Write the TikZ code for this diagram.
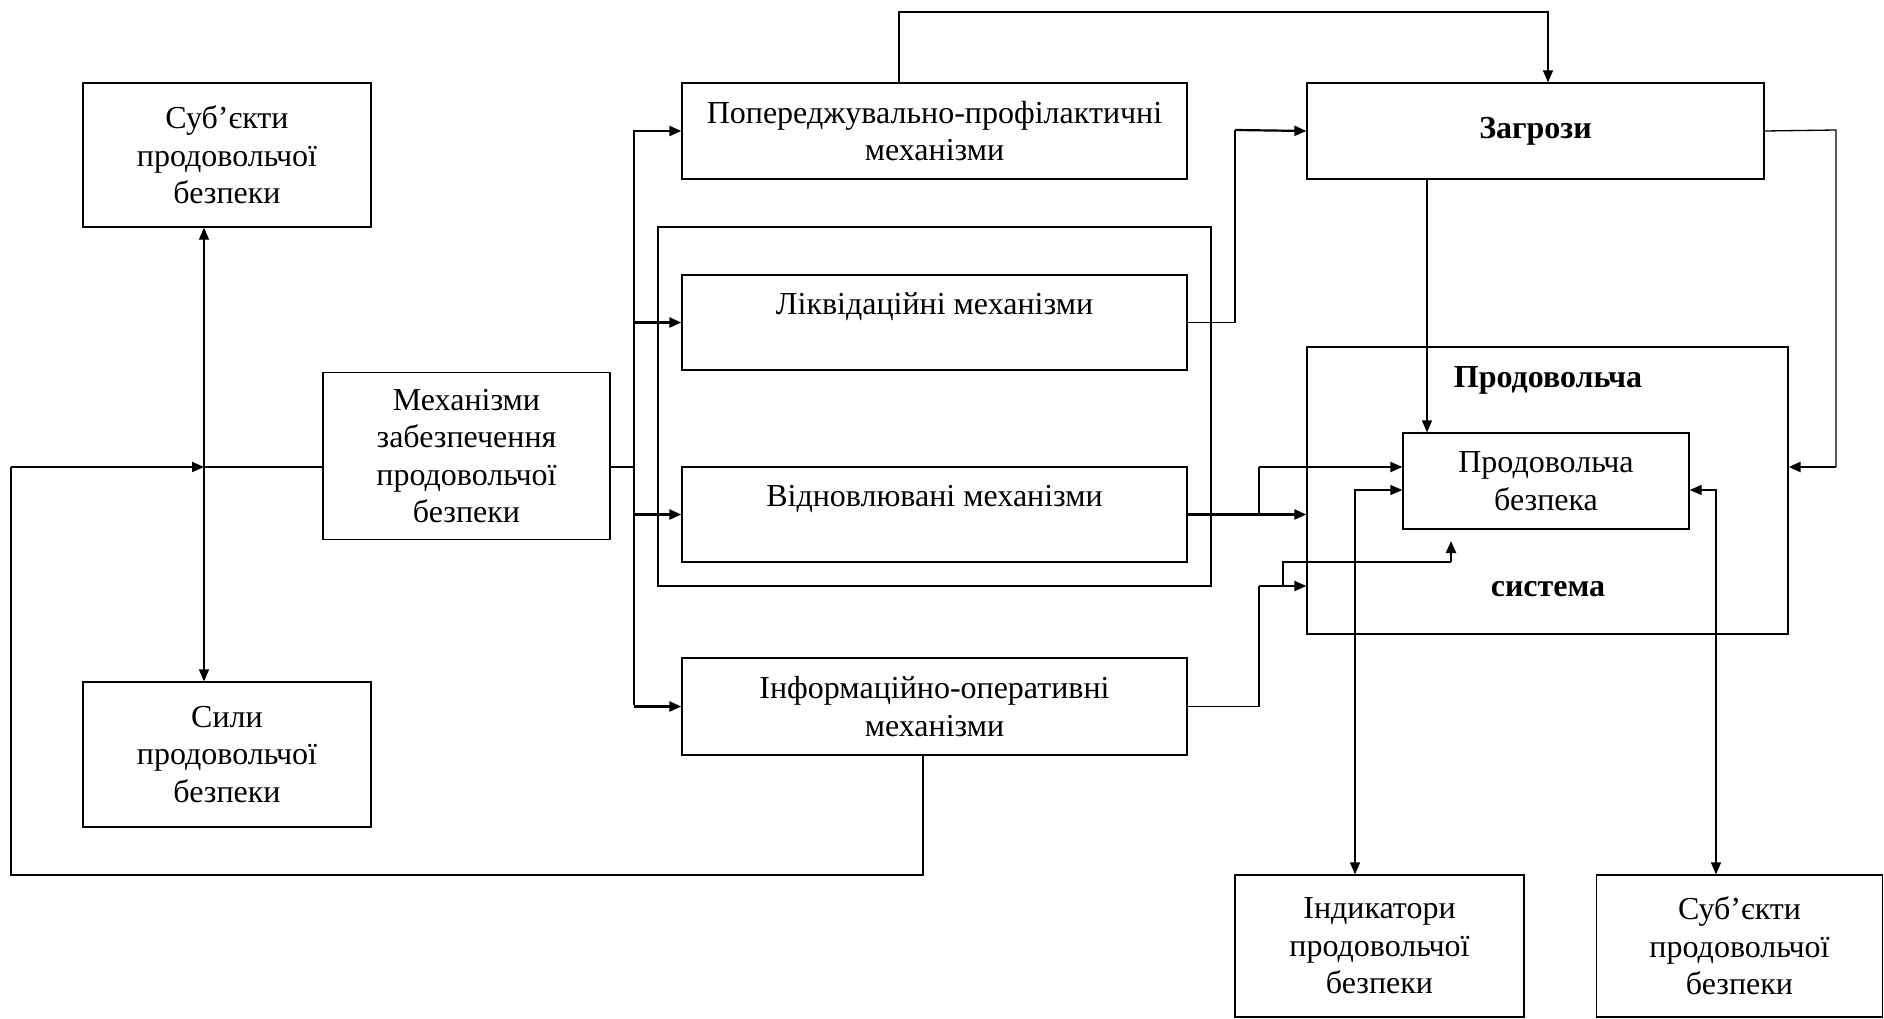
\documentclass[tikz,border=0pt]{standalone}
\usepackage{fontspec}
\setmainfont{Liberation Serif}
\usetikzlibrary{arrows.meta}
\newcommand\fs{\fontsize{32}{37.5}\selectfont}
\tikzset{
  >={Triangle[length=12pt,width=10pt]},
  box/.style={draw, line width=1.3pt, inner sep=0pt, align=center, font=\fs},
  ln/.style={line width=1.3pt},
  ar/.style={line width=2.2pt, ->},
  lbl/.style={inner sep=0pt, font=\fs\bfseries},
}
\begin{document}
\begin{tikzpicture}[x=1pt,y=-1pt]
\useasboundingbox[fill=white] (0,0) rectangle (1884,1019);
% boxes
\node[box, minimum width=288pt, minimum height=144pt] (subL) at (227,155) {Суб’єкти\\продовольчої\\безпеки};
\node[box, minimum width=288pt, minimum height=145pt] (sily) at (227,754.5) {Сили\\продовольчої\\безпеки};
\node[box, minimum width=287pt, minimum height=167pt] (mech) at (466.5,456) {Механізми\\забезпечення\\продовольчої\\безпеки};
\node[box, minimum width=505pt, minimum height=96pt] (prev) at (934.5,131) {Попереджувально-профілактичні\\механізми};
\node[box, minimum width=553pt, minimum height=359pt] (grp) at (934.5,406.5) {};
\node[box, minimum width=505pt, minimum height=95pt] (liq) at (934.5,322.5) {Ліквідаційні механізми\\\mbox{}};
\node[box, minimum width=505pt, minimum height=95pt] (rec) at (934.5,514.5) {Відновлювані механізми\\\mbox{}};
\node[box, minimum width=505pt, minimum height=97pt] (info) at (934.5,706.5) {Інформаційно-оперативні\\механізми};
\node[box, minimum width=457pt, minimum height=96pt, font=\fs\bfseries] (zag) at (1535.5,131) {Загрози};
\node[box, minimum width=481pt, minimum height=287pt] (sys) at (1547.5,490.5) {};
\node[lbl] (sysT) at (1548,380) {Продовольча};
\node[lbl] (sysB) at (1548,589) {система};
\node[box, minimum width=286pt, minimum height=96pt] (inner) at (1546,481) {Продовольча\\безпека};
\node[box, minimum width=289pt, minimum height=142pt] (ind) at (1379.5,946) {Індикатори\\продовольчої\\безпеки};
\node[box, minimum width=286pt, minimum height=142pt] (subR) at (1739.5,946) {Суб’єкти\\продовольчої\\безпеки};
% coordinates
\coordinate (hub) at (204,467);
\coordinate (fbL) at (11,467);
\coordinate (fbB) at (11,875);
\coordinate (fbC) at (923,875);
\coordinate (busT) at (634,130);
\coordinate (busB) at (634,705);
\coordinate (topL) at (899,12);
\coordinate (topR) at (1548,12);
\coordinate (lqR) at (1235,130);
\coordinate (xA) at (1427,300);
\coordinate (zR) at (1836,130);
\coordinate (br1) at (1259,467);
\coordinate (br2) at (1259,586);
\coordinate (br3) at (1283,562);
\coordinate (br4) at (1451,562);
\coordinate (br5) at (1451,541);
\coordinate (iC) at (1355,490);
\coordinate (sC) at (1716,490);
% left part
\draw[ln, <->] (subL.south -| hub) -- (sily.north -| hub);
\draw[ln] (hub) -- (hub -| mech.west);
\draw[ln] (info.south -| fbC) -- (fbC) -- (fbB) -- (fbL);
\draw[ar] (fbL) -- (hub);
% bus
\draw[ln] (hub -| mech.east) -- (hub -| busT);
\draw[ln] (busT) -- (busB);
\draw[ar] (prev.west -| busT) -- (prev.west);
\draw[ar] (liq.west -| busT) -- (liq.west);
\draw[ar] (rec.west -| busT) -- (rec.west);
\draw[ar] (info.west -| busT) -- (info.west);
% top
\draw[ln, ->] (prev.north -| topL) -- (topL) -- (topR) -- (zag.north -| topR);
\draw[ln] (liq.east) -- (liq.east -| lqR) -- (lqR);
\draw[ar] (lqR) -- (zag.west);
\draw[ln, ->] (zag.south -| xA) -- (inner.north -| xA);
\draw[ln] (zag.east) -- (zR) -- (zR |- hub);
\draw[ar] (zR |- hub) -- (sys.east |- hub);
% right inputs
\draw[ar] (rec.east) -- (sys.west |- rec.east);
\draw[ln] (rec.east -| br1) -- (br1);
\draw[ar] (br1) -- (inner.west |- br1);
\draw[ln] (info.east) -- (info.east -| br2) -- (br2);
\draw[ar] (br2) -- (sys.west |- br2);
\draw[ln] (br3 |- br2) -- (br3) -- (br4);
\draw[ar] (br4) -- (br5);
% bottom
\draw[ln, <->] (ind.north -| iC) -- (iC) -- (inner.west |- iC);
\draw[ln, <->] (subR.north -| sC) -- (sC) -- (inner.east |- sC);
\end{tikzpicture}
\end{document}
